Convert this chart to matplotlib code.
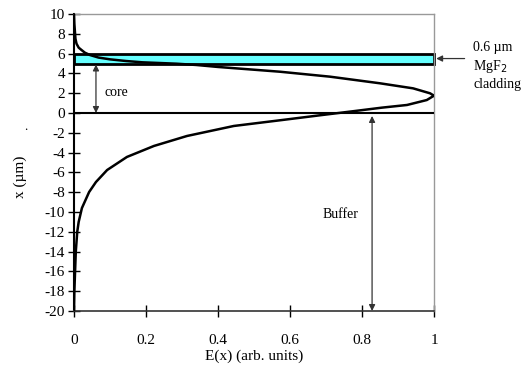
import matplotlib
matplotlib.use("Agg")
import matplotlib.pyplot as plt
from matplotlib.patches import Rectangle

plt.rcParams['font.family'] = ['Liberation Serif', 'DejaVu Serif']
plt.rcParams['axes.unicode_minus'] = False

# Field profile E(x) vs position x (um)
pos = [10, 9, 8, 7.5, 7.0, 6.6, 6.36, 6.1, 5.86, 5.6, 5.42, 5.25, 5.12, 4.98, 4.85, 4.65,
       4.4, 4.17, 3.67, 3.0, 2.49, 1.99, 1.75, 1.31, 0.81, 0.54, 0.2, -0.2, -0.7, -1.31,
       -2.32, -3.33, -4.44, -5.76, -6.97, -7.98, -9.6, -11.0, -12.0, -14.0, -16.0, -18.0, -20.0]
field = [0.0, 0.001, 0.003, 0.004, 0.007, 0.013, 0.021, 0.03, 0.044, 0.068, 0.1, 0.145, 0.19, 0.285, 0.34, 0.4,
         0.49, 0.572, 0.711, 0.85, 0.942, 0.989, 1.0, 0.98, 0.925, 0.855, 0.78, 0.69, 0.58, 0.444,
         0.314, 0.222, 0.147, 0.092, 0.061, 0.042, 0.022, 0.013, 0.009, 0.005, 0.003, 0.001, 0.0]

xticks = [0, 0.2, 0.4, 0.6, 0.8, 1]
xticklabels = ['0', '0.2', '0.4', '0.6', '0.8', '1']
yticks = list(range(-20, 11, 2))

cladding_bottom, cladding_top = 4.9, 6.0
core_arrow_x = 0.061
buffer_arrow_x = 0.828

fig = plt.figure(figsize=(5.31, 3.65), dpi=100)
ax = fig.add_axes([74/531, 54/365, 360/531, 297/365])
ax.set_xlim(0, 1)
ax.set_ylim(-20, 10)

ax.add_patch(Rectangle((0, cladding_bottom), 1, cladding_top - cladding_bottom,
                       facecolor='#66FFFF', edgecolor='black', lw=2, zorder=2, clip_on=False))
ax.plot(field, pos, color='black', lw=1.8, zorder=3, solid_joinstyle='round')
ax.axhline(0, color='black', lw=1.5, zorder=3)

# core arrow
ax.annotate('', xy=(core_arrow_x, 0), xytext=(core_arrow_x, cladding_bottom),
            arrowprops=dict(arrowstyle='<|-|>', color='#333333', lw=0.9, mutation_scale=9,
                            shrinkA=0, shrinkB=0))
ax.text(0.085, 2.1, 'core', fontsize=10, va='center', ha='left')

# buffer arrow
ax.annotate('', xy=(buffer_arrow_x, -0.3), xytext=(buffer_arrow_x, -20),
            arrowprops=dict(arrowstyle='<|-|>', color='#333333', lw=0.9, mutation_scale=9,
                            shrinkA=0, shrinkB=0))
ax.text(0.69, -10.3, 'Buffer', fontsize=10, va='center', ha='left')

# cladding annotation
ax.annotate('', xy=(1.006, 5.5), xytext=(1.085, 5.5),
            arrowprops=dict(arrowstyle='-|>', color='#333333', lw=0.9, mutation_scale=9,
                            shrinkA=0, shrinkB=0), annotation_clip=False)
fig.text(473/531, 1 - 66/365, '0.6 \u00b5m\nMgF$_2$\ncladding', fontsize=10,
         va='center', ha='left', linespacing=1.3)

ax.set_xticks(xticks)
ax.set_xticklabels(xticklabels)
ax.set_yticks(yticks)
ax.tick_params(direction='inout', length=9, width=1, labelsize=11, color='black')
ax.tick_params(axis='x', pad=12)
ax.tick_params(axis='y', pad=2)

ax.spines['left'].set_color('black')
ax.spines['left'].set_linewidth(1.5)
ax.spines['bottom'].set_color('#333333')
ax.spines['bottom'].set_linewidth(1.2)
ax.spines['top'].set_color('#999999')
ax.spines['right'].set_color('#999999')
ax.spines['top'].set_linewidth(1)
ax.spines['right'].set_linewidth(1)

ax.set_xlabel('E(x) (arb. units)', fontsize=11, labelpad=2)
fig.text(20/531, 1 - 177/365, 'x (\u00b5m)', rotation=90, fontsize=11, va='center', ha='center')
fig.text(26/531, 1 - 127/365, '.', fontsize=9, va='center', ha='center')

fig.savefig('out.png', dpi=100)
